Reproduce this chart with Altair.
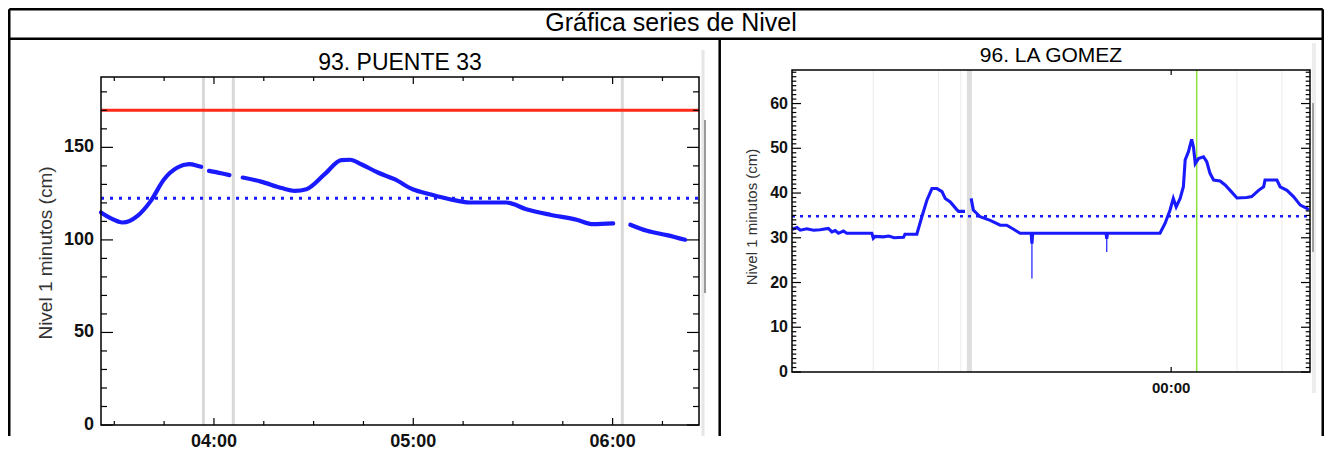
import altair as alt
import pandas as pd

# ------------------------------------------------------------------ texts
MAIN_TITLE = "Gráfica series de Nivel"
LEFT_TITLE = "93. PUENTE 33"
RIGHT_TITLE = "96. LA GOMEZ"
Y_TITLE = "Nivel 1 minutos (cm)"

DAY1 = "2023-05-09"
DAY2 = "2023-05-10"

# ------------------------------------------------------------------ left panel data (93. PUENTE 33)
left_start = "03:26"
left_end = "06:26"
left_y_max = 191.8
left_frame_top = 188.0
left_time = ["03:26:00", "03:29:00", "03:32:30", "03:37:00", "03:41:00", "03:45:00", "03:49:00",
             "03:52:30", "03:55:30", "03:56:10",
             "03:58:30", "04:02:10", "04:04:40",
             "04:08:40", "04:14:10", "04:20:20", "04:24:20", "04:27:50", "04:33:20", "04:38:20",
             "04:41:00", "04:44:20", "04:49:20", "04:54:20", "05:00:00", "05:05:00", "05:11:00",
             "05:17:00", "05:28:00", "05:34:00", "05:41:10", "05:49:10", "05:54:10", "06:00:10",
             "06:05:20", "06:10:20", "06:16:20", "06:21:50"]
left_level = [114.8, 111.6, 109.4, 113.0, 121.1, 132.8, 139.1,
              140.9, 139.8, 139.5,
              137.3, 136.0, 135.0,
              133.7, 131.5, 128.0, 126.5, 127.4, 135.5, 143.1,
              143.3, 140.9, 136.4, 132.8, 127.2, 124.7, 122.0,
              120.2, 120.2, 116.6, 113.6, 110.9, 108.5, 108.9,
              108.2, 104.9, 102.6, 100.1]
left_segment = [0] * 10 + [1] * 3 + [2] * 21 + [3] * 4
left_red = 170
left_blue = 122.5
left_gray_times = ["03:56:50", "04:05:50", "06:02:55"]
left_x_major = ["04:00", "05:00", "06:00"]
left_x_minor = ["03:30", "03:45", "04:15", "04:30", "04:45", "05:15", "05:30", "05:45", "06:15"]
left_y_major = [0, 50, 100, 150]
left_y_minor = [10, 20, 30, 40, 60, 70, 80, 90, 110, 120, 130, 140, 160, 170, 180]

# ------------------------------------------------------------------ right panel data (96. LA GOMEZ)
right_start = (DAY1, "06:26")
right_end = (DAY2, "06:26")
right_y_max = 67.5
right_time = [
    (DAY1, "06:27"), (DAY1, "06:40"), (DAY1, "06:49"), (DAY1, "07:07"), (DAY1, "07:26"),
    (DAY1, "07:44"), (DAY1, "08:07"), (DAY1, "08:17"), (DAY1, "08:26"), (DAY1, "08:35"),
    (DAY1, "08:49"), (DAY1, "08:58"), (DAY1, "10:08"), (DAY1, "10:12"), (DAY1, "10:17"),
    (DAY1, "10:40"), (DAY1, "10:55"), (DAY1, "11:10"), (DAY1, "11:36"), (DAY1, "11:40"),
    (DAY1, "12:13"), (DAY1, "12:27"), (DAY1, "12:41"), (DAY1, "12:55"), (DAY1, "13:09"),
    (DAY1, "13:23"), (DAY1, "13:32"), (DAY1, "13:46"), (DAY1, "14:04"), (DAY1, "14:09"),
    (DAY1, "14:27"),
    (DAY1, "14:44"), (DAY1, "14:50"), (DAY1, "15:09"), (DAY1, "15:37"), (DAY1, "16:05"),
    (DAY1, "16:23"), (DAY1, "16:42"), (DAY1, "17:00"), (DAY1, "17:31"), (DAY1, "17:33"),
    (DAY1, "17:35"), (DAY1, "20:59"), (DAY1, "21:01"), (DAY1, "21:03"), (DAY1, "23:29"),
    (DAY1, "23:43"), (DAY1, "23:57"),
    (DAY2, "00:06"), (DAY2, "00:14"), (DAY2, "00:25"), (DAY2, "00:34"), (DAY2, "00:39"),
    (DAY2, "00:48"), (DAY2, "00:57"), (DAY2, "01:02"), (DAY2, "01:07"), (DAY2, "01:16"),
    (DAY2, "01:30"), (DAY2, "01:39"), (DAY2, "01:48"), (DAY2, "01:58"), (DAY2, "02:16"),
    (DAY2, "02:30"), (DAY2, "02:44"), (DAY2, "03:03"), (DAY2, "03:30"), (DAY2, "03:44"),
    (DAY2, "04:03"), (DAY2, "04:17"), (DAY2, "04:21"), (DAY2, "04:54"), (DAY2, "05:03"),
    (DAY2, "05:22"), (DAY2, "05:40"), (DAY2, "05:59"), (DAY2, "06:17"), (DAY2, "06:22"),
]
right_level = [
    31.9, 32.3, 31.7, 32.0, 31.7,
    31.8, 32.1, 31.3, 31.6, 31.0,
    31.5, 31.0, 31.0, 29.9, 30.3,
    30.2, 30.4, 30.0, 30.1, 30.8,
    30.8, 34.7, 38.4, 41.0, 41.0,
    40.3, 38.8, 38.0, 36.3, 35.9,
    35.9,
    38.8, 36.2, 34.7, 33.9, 32.8,
    32.8, 31.9, 31.0, 31.0, 28.7,
    31.0, 31.0, 29.8, 31.0, 31.0,
    33.2, 36.2,
    38.8, 36.9, 38.8, 41.4, 47.4,
    49.2, 52.0, 50.3, 46.6, 47.7,
    48.1, 47.0, 44.4, 42.9, 42.7,
    41.8, 40.6, 38.9, 39.0, 39.2,
    40.6, 41.4, 42.9, 42.9, 41.4,
    40.6, 39.2, 37.3, 36.6, 36.2,
]
right_segment = [0] * 31 + [1] * 47
right_spike_time = [(DAY1, "17:33"), (DAY1, "21:01")]
right_spike_low = [20.9, 26.8]
right_spike_base = [31.0, 31.0]
right_blue = 34.8
right_gray_times = [(DAY1, "10:12"), (DAY1, "13:13"), (DAY1, "14:15"), (DAY2, "03:03"), (DAY2, "05:08")]
right_band = [(DAY1, "14:32"), (DAY1, "14:46")]
right_green_time = [(DAY2, "01:11")]
right_x_major = [(DAY2, "00:00")]
right_y_major = [0, 10, 20, 30, 40, 50, 60]
right_y_minor = [v for v in range(1, 68) if v % 10 != 0]

# ------------------------------------------------------------------ styles
FONT = "Liberation Sans, Arial, Helvetica, sans-serif"
BLUE = "#1a1aff"
RED = "#ff2a1a"
GRAY_GAP = "#d9d9d9"
TICK_W = 1.2
LABEL_COLOR = "#111111"
AXIS_TITLE_COLOR = "#333333"


def ts(day, hm):
    return pd.Timestamp(f"{day} {hm}")


def adt(day, hm):
    t = ts(day, hm)
    return alt.DateTime(year=t.year, month=t.month, date=t.day,
                        hours=t.hour, minutes=t.minute, seconds=t.second)


def x_ticks(times, yval, length, top, xs, ys):
    df = pd.DataFrame({"time": times, "y": [yval] * len(times)})
    return alt.Chart(df).mark_tick(
        orient="vertical", size=length, thickness=TICK_W, color="black", opacity=1,
        yOffset=(length / 2 if top else -length / 2),
    ).encode(x=alt.X("time:T", scale=xs, axis=None), y=alt.Y("y:Q", scale=ys, axis=None))


def y_ticks(values, xtime, length, right, xs, ys):
    df = pd.DataFrame({"v": values, "time": [xtime] * len(values)})
    return alt.Chart(df).mark_tick(
        orient="horizontal", size=length, thickness=TICK_W, color="black", opacity=1,
        xOffset=(-length / 2 if right else length / 2),
    ).encode(x=alt.X("time:T", scale=xs, axis=None), y=alt.Y("v:Q", scale=ys, axis=None))


def x_labels(times, size, dy, xs, ys):
    df = pd.DataFrame({"time": times, "y": [0.0] * len(times)})
    return alt.Chart(df).mark_text(
        baseline="top", align="center", dy=dy, fontSize=size, fontWeight="bold", color=LABEL_COLOR,
    ).encode(x=alt.X("time:T", scale=xs, axis=None), y=alt.Y("y:Q", scale=ys, axis=None),
             text=alt.Text("time:T", format="%H:%M"))


def y_labels(values, xtime, size, dx, xs, ys):
    df = pd.DataFrame({"v": values, "time": [xtime] * len(values)})
    return alt.Chart(df).mark_text(
        baseline="middle", align="right", dx=dx, fontSize=size, fontWeight="bold", color=LABEL_COLOR,
    ).encode(x=alt.X("time:T", scale=xs, axis=None), y=alt.Y("v:Q", scale=ys, axis=None),
             text=alt.Text("v:Q"))


def label(text, x, y, size, color="#000000", angle=0, baseline="alphabetic"):
    return alt.Chart(pd.DataFrame({"t": [text]})).mark_text(
        fontSize=size, align="center", baseline=baseline, color=color, angle=angle).encode(
        text="t:N", x=alt.value(x), y=alt.value(y))


def hline(x1, x2, y, color="black", w=2.5):
    return alt.Chart().mark_rule(color=color, strokeWidth=w).encode(
        x=alt.value(x1), x2=alt.value(x2), y=alt.value(y))


def vline(x, y1, y2, color="black", w=2.5):
    return alt.Chart().mark_rule(color=color, strokeWidth=w).encode(
        x=alt.value(x), y=alt.value(y1), y2=alt.value(y2))


# ------------------------------------------------------------------ left chart
L_START = ts(DAY2, left_start)
L_END = ts(DAY2, left_end)
lxs = alt.Scale(domain=[adt(DAY2, left_start), adt(DAY2, left_end)], nice=False)
lys = alt.Scale(domain=[0, left_y_max], nice=False, zero=False)

left_df = pd.DataFrame({"time": [ts(DAY2, t) for t in left_time],
                        "level": left_level, "segment": left_segment})

left_gaps = alt.Chart(pd.DataFrame({
    "time": [ts(DAY2, t) for t in left_gray_times],
    "lo": 0.0, "hi": left_frame_top})).mark_rule(color=GRAY_GAP, strokeWidth=3).encode(
    x=alt.X("time:T", scale=lxs, axis=None),
    y=alt.Y("lo:Q", scale=lys, axis=None), y2="hi:Q")

left_red_rule = alt.Chart(pd.DataFrame({"s": [L_START], "e": [L_END], "v": [left_red]})).mark_rule(
    color=RED, strokeWidth=3).encode(
    x=alt.X("s:T", scale=lxs, axis=None), x2="e:T", y=alt.Y("v:Q", scale=lys, axis=None))

left_blue_rule = alt.Chart(pd.DataFrame({"s": [L_START], "e": [L_END], "v": [left_blue]})).mark_rule(
    color=BLUE, strokeWidth=3, strokeDash=[3, 6]).encode(
    x=alt.X("s:T", scale=lxs, axis=None), x2="e:T", y=alt.Y("v:Q", scale=lys, axis=None))

left_line = alt.Chart(left_df).mark_line(
    color=BLUE, strokeWidth=4.2, interpolate="monotone", strokeCap="round").encode(
    x=alt.X("time:T", scale=lxs, axis=None),
    y=alt.Y("level:Q", scale=lys, axis=None),
    detail="segment:N")

left_frame = alt.Chart(pd.DataFrame({"s": [L_START], "e": [L_END], "lo": [0.0], "hi": [left_frame_top]})).mark_rect(
    fillOpacity=0, stroke="black", strokeWidth=1.5).encode(
    x=alt.X("s:T", scale=lxs, axis=None), x2="e:T",
    y=alt.Y("lo:Q", scale=lys, axis=None), y2="hi:Q")

lxmaj = [ts(DAY2, t) for t in left_x_major]
lxmin = [ts(DAY2, t) for t in left_x_minor]
left_chart = alt.layer(
    left_gaps, left_red_rule, left_blue_rule, left_line, left_frame,
    x_ticks(lxmaj, 0.0, 7, False, lxs, lys),
    x_ticks(lxmin, 0.0, 4, False, lxs, lys),
    x_ticks(lxmaj, left_frame_top, 7, True, lxs, lys),
    x_ticks(lxmin, left_frame_top, 4, True, lxs, lys),
    y_ticks(left_y_major, L_START, 12, False, lxs, lys),
    y_ticks(left_y_minor, L_START, 6, False, lxs, lys),
    y_ticks(left_y_major, L_END, 12, True, lxs, lys),
    y_ticks(left_y_minor, L_END, 6, True, lxs, lys),
    x_labels(lxmaj, 18, 7.5, lxs, lys),
    y_labels(left_y_major, L_START, 18, -7, lxs, lys),
    label(Y_TITLE, -55, 183, 19, color=AXIS_TITLE_COLOR, angle=270, baseline="middle"),
    label(LEFT_TITLE, 299, 0, 23),
).properties(width=598, height=355)

# ------------------------------------------------------------------ right chart
R_START = ts(*right_start)
R_END = ts(*right_end)
rxs = alt.Scale(domain=[adt(*right_start), adt(*right_end)], nice=False)
rys = alt.Scale(domain=[0, right_y_max], nice=False, zero=False)

right_df = pd.DataFrame({"time": [ts(*t) for t in right_time],
                         "level": right_level, "segment": right_segment})

right_gray = alt.Chart(pd.DataFrame({"time": [ts(*t) for t in right_gray_times]})).mark_rule(
    color="#ececec", strokeWidth=1).encode(x=alt.X("time:T", scale=rxs, axis=None))

right_band_rect = alt.Chart(pd.DataFrame({"s": [ts(*right_band[0])], "e": [ts(*right_band[1])]})).mark_rect(
    color="#dedede").encode(x=alt.X("s:T", scale=rxs, axis=None), x2="e:T")

right_green = alt.Chart(pd.DataFrame({"time": [ts(*t) for t in right_green_time]})).mark_rule(
    color="#8ee03a", strokeWidth=1.5).encode(x=alt.X("time:T", scale=rxs, axis=None))

right_blue_rule = alt.Chart(pd.DataFrame({"s": [R_START], "e": [R_END], "v": [right_blue]})).mark_rule(
    color=BLUE, strokeWidth=2.6, strokeDash=[3, 5]).encode(
    x=alt.X("s:T", scale=rxs, axis=None), x2="e:T", y=alt.Y("v:Q", scale=rys, axis=None))

right_spikes = alt.Chart(pd.DataFrame({"time": [ts(*t) for t in right_spike_time],
                                       "low": right_spike_low, "base": right_spike_base})).mark_rule(
    color=BLUE, strokeWidth=1.2).encode(
    x=alt.X("time:T", scale=rxs, axis=None), y=alt.Y("low:Q", scale=rys, axis=None), y2="base:Q")

right_line = alt.Chart(right_df).mark_line(color=BLUE, strokeWidth=3.1).encode(
    x=alt.X("time:T", scale=rxs, axis=None),
    y=alt.Y("level:Q", scale=rys, axis=None),
    detail="segment:N")

right_frame = alt.Chart(pd.DataFrame({"s": [R_START], "e": [R_END], "lo": [0.0], "hi": [right_y_max]})).mark_rect(
    fillOpacity=0, stroke="black", strokeWidth=1.5).encode(
    x=alt.X("s:T", scale=rxs, axis=None), x2="e:T",
    y=alt.Y("lo:Q", scale=rys, axis=None), y2="hi:Q")

rxmaj = [ts(*t) for t in right_x_major]

# page decorations (table frame, page title), positioned in pixels relative to this panel
FL, FR, FT, FB = -782.75, 530.75, -60.75, 366
decor = [
    vline(-89.0, -20, 366, color="#e6e6e6", w=3),
    vline(-87.0, 50, 223, color="#9a9a9a", w=2),
    vline(522.0, -27, 323, color="#ededed", w=4),
    vline(521.0, 33, 182, color="#a0a0a0", w=2),
    hline(FL, FR, FT), vline(FL, FT, FB), vline(FR, FT, FB),
    hline(FL, FR, -31.3), vline(-72.3, -31.3, FB),
    label(MAIN_TITLE, -121, -39.3, 25),
]

right_chart = alt.layer(
    right_gray, right_band_rect, right_green, right_blue_rule, right_spikes, right_line, right_frame,
    x_ticks(rxmaj, 0.0, 5, False, rxs, rys),
    x_ticks(rxmaj, right_y_max, 5, True, rxs, rys),
    y_ticks(right_y_major, R_START, 9, False, rxs, rys),
    y_ticks(right_y_minor, R_START, 4.3, False, rxs, rys),
    y_ticks(right_y_major, R_END, 9, True, rxs, rys),
    y_ticks(right_y_minor, R_END, 4.3, True, rxs, rys),
    x_labels(rxmaj, 15, 8.5, rxs, rys),
    y_labels(right_y_major, R_START, 16, -4, rxs, rys),
    label(Y_TITLE, -40, 147, 15, color=AXIS_TITLE_COLOR, angle=270, baseline="middle"),
    label(RIGHT_TITLE, 259, -7.7, 21),
    *decor,
).properties(width=518, height=302)

chart = alt.hconcat(left_chart, right_chart, spacing=93, bounds="flush").properties(
    padding=0
).configure(font=FONT).configure_view(strokeWidth=0)

chart.save("out.html", embed_options={"renderer": "svg", "actions": False})
